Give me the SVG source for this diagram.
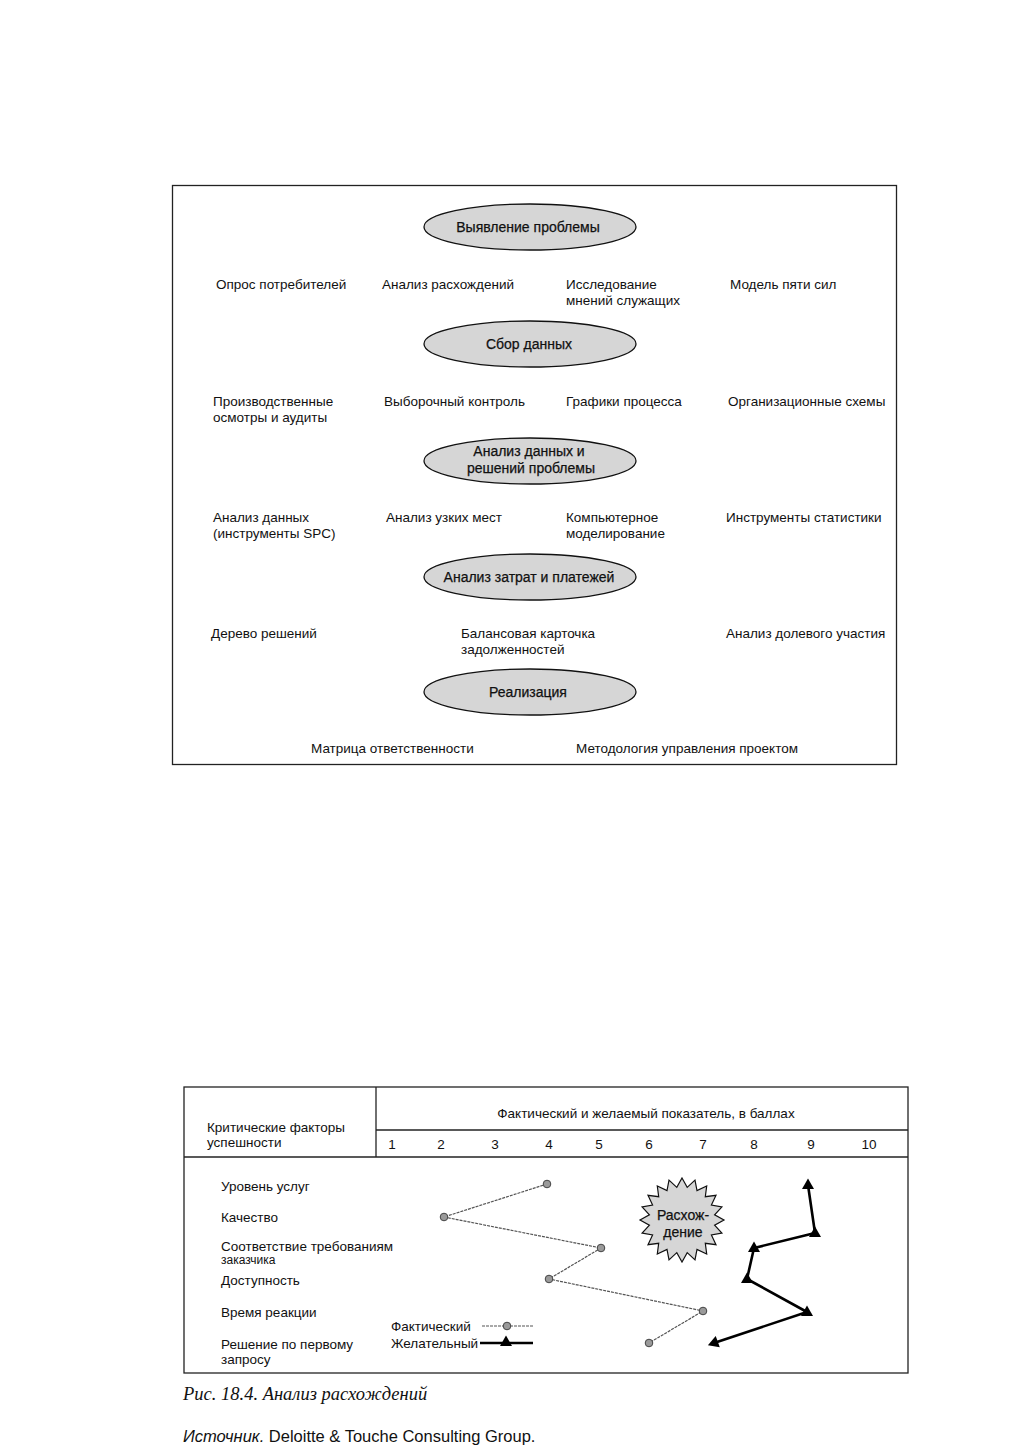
<svg xmlns="http://www.w3.org/2000/svg" xmlns:xlink="http://www.w3.org/1999/xlink" width="1013" height="1456" viewBox="0 0 1013 1456">
<style>
text{font-family:"Liberation Sans",Arial,sans-serif;font-size:13.5px;fill:#111;}
.c{text-anchor:middle;}
.et{font-size:14px;stroke:#111;stroke-width:0.25;}
.sm{font-size:12px;}
.box{fill:none;stroke:#222;stroke-width:1.3;}
.ell{fill:#d6d6d6;stroke:#111;stroke-width:1.3;}
.act{fill:none;stroke:#555;stroke-width:1.2;stroke-dasharray:3 1;}
.des{fill:none;stroke:#000;stroke-width:2.6;stroke-linejoin:round;}
.dot{fill:#9a9a9a;stroke:#444;stroke-width:1;}
.cap{font-family:"Liberation Serif","Times New Roman",serif;font-style:italic;font-size:18.5px;}
.src{font-size:16.5px;}
</style>
<defs>
<path id="tri" d="M0,-6.5 L6,4 L-6,4 Z" fill="#000"/>
</defs>
<rect width="1013" height="1456" fill="#fff"/>

<!-- ===== Top diagram ===== -->
<rect class="box" x="172.5" y="185.5" width="724" height="579"/>

<g id="n-vyyavlenie">
<ellipse class="ell" cx="530" cy="227" rx="106" ry="23"/>
<text class="c et" x="528" y="232">Выявление проблемы</text>
</g>
<g id="n-row1">
<text x="216" y="289">Опрос потребителей</text>
<text x="382" y="289">Анализ расхождений</text>
<text x="566" y="289">Исследование</text>
<text x="566" y="305">мнений служащих</text>
<text x="730" y="289">Модель пяти сил</text>
</g>

<g id="n-sbor">
<ellipse class="ell" cx="530" cy="344" rx="106" ry="23"/>
<text class="c et" x="529" y="349">Сбор данных</text>
</g>
<g id="n-row2">
<text x="213" y="406">Производственные</text>
<text x="213" y="422">осмотры и аудиты</text>
<text x="384" y="406">Выборочный контроль</text>
<text x="566" y="406">Графики процесса</text>
<text x="728" y="406">Организационные схемы</text>
</g>

<g id="n-analiz">
<ellipse class="ell" cx="530" cy="461" rx="106" ry="23"/>
<text class="c et" x="529" y="456">Анализ данных и</text>
<text class="c et" x="531" y="473">решений проблемы</text>
</g>
<g id="n-row3">
<text x="213" y="522">Анализ данных</text>
<text x="213" y="538">(инструменты SPC)</text>
<text x="386" y="522">Анализ узких мест</text>
<text x="566" y="522">Компьютерное</text>
<text x="566" y="538">моделирование</text>
<text x="726" y="522">Инструменты статистики</text>
</g>

<g id="n-zatraty">
<ellipse class="ell" cx="530" cy="577" rx="106" ry="23"/>
<text class="c et" x="529" y="582">Анализ затрат и платежей</text>
</g>
<g id="n-row4">
<text x="211" y="638">Дерево решений</text>
<text x="461" y="638">Балансовая карточка</text>
<text x="461" y="654">задолженностей</text>
<text x="726" y="638">Анализ долевого участия</text>
</g>

<g id="n-realizaciya">
<ellipse class="ell" cx="530" cy="692" rx="106" ry="23"/>
<text class="c et" x="528" y="697">Реализация</text>
</g>
<g id="n-row5">
<text x="311" y="753">Матрица ответственности</text>
<text x="576" y="753">Методология управления проектом</text>
</g>

<!-- ===== Chart ===== -->
<g id="chart-frame">
<rect class="box" x="184" y="1087" width="724" height="286"/>
<line class="box" x1="376" y1="1087" x2="376" y2="1157"/>
<line class="box" x1="376" y1="1130" x2="908" y2="1130"/>
<line class="box" x1="184" y1="1157" x2="908" y2="1157"/>
<text x="207" y="1132">Критические факторы</text>
<text x="207" y="1147">успешности</text>
<text class="c" x="646" y="1118">Фактический и желаемый показатель, в баллах</text>
<text class="c" x="392" y="1149">1</text>
<text class="c" x="441" y="1149">2</text>
<text class="c" x="495" y="1149">3</text>
<text class="c" x="549" y="1149">4</text>
<text class="c" x="599" y="1149">5</text>
<text class="c" x="649" y="1149">6</text>
<text class="c" x="703" y="1149">7</text>
<text class="c" x="754" y="1149">8</text>
<text class="c" x="811" y="1149">9</text>
<text class="c" x="869" y="1149">10</text>
</g>

<g id="row-labels">
<text x="221" y="1191">Уровень услуг</text>
<text x="221" y="1222">Качество</text>
<text x="221" y="1251">Соответствие требованиям</text>
<text class="sm" x="221" y="1264">заказчика</text>
<text x="221" y="1285">Доступность</text>
<text x="221" y="1317">Время реакции</text>
<text x="221" y="1349">Решение по первому</text>
<text x="221" y="1364">запросу</text>
</g>

<g id="n-raskhozhdenie">
<polygon points="682,1178 687.2,1187.4 695,1180.1 697,1190.6 706.7,1186 705.3,1196.7 716,1195.3 711.4,1205 721.9,1207 714.6,1214.8 724,1220 714.6,1225.2 721.9,1233 711.4,1235 716,1244.7 705.3,1243.3 706.7,1254 697,1249.4 695,1259.9 687.2,1252.6 682,1262 676.8,1252.6 669,1259.9 667,1249.4 657.3,1254 658.7,1243.3 648,1244.7 652.6,1235 642.1,1233 649.4,1225.2 640,1220 649.4,1214.8 642.1,1207 652.6,1205 648,1195.3 658.7,1196.7 657.3,1186 667,1190.6 669,1180.1 676.8,1187.4" fill="#d6d6d6" stroke="#111" stroke-width="1.2"/>
<text class="c et" x="683" y="1220">Расхож-</text>
<text class="c et" x="683" y="1237">дение</text>
</g>

<g id="connectors">
<polyline class="act" points="547,1184 444,1217 601,1248 549,1279 703,1311 649,1343"/>
<polyline class="des" points="808,1185 815,1233 754,1248 747,1279 807,1312 714,1343"/>
<line class="act" x1="482" y1="1326" x2="533" y2="1326"/>
<line class="des" x1="480" y1="1343" x2="533" y2="1343"/>
</g>

<g id="series-actual">
<circle class="dot" cx="547" cy="1184" r="3.8"/>
<circle class="dot" cx="444" cy="1217" r="3.8"/>
<circle class="dot" cx="601" cy="1248" r="3.8"/>
<circle class="dot" cx="549" cy="1279" r="3.8"/>
<circle class="dot" cx="703" cy="1311" r="3.8"/>
<circle class="dot" cx="649" cy="1343" r="3.8"/>
<circle class="dot" cx="507" cy="1326" r="3.8"/>
</g>

<g id="series-desired">
<use xlink:href="#tri" x="808" y="1185"/>
<use xlink:href="#tri" x="815" y="1233"/>
<use xlink:href="#tri" x="754" y="1248"/>
<use xlink:href="#tri" x="747" y="1279"/>
<use xlink:href="#tri" x="807" y="1312"/>
<use xlink:href="#tri" transform="translate(714,1343) rotate(-110)"/>
<use xlink:href="#tri" x="506" y="1342"/>
</g>

<g id="legend">
<text x="391" y="1331">Фактический</text>
<text x="391" y="1348">Желательный</text>
</g>

<g id="caption">
<text class="cap" x="183" y="1400">Рис. 18.4. Анализ расхождений</text>
<text class="src" x="183" y="1442"><tspan font-style="italic">Источник.</tspan> Deloitte &amp; Touche Consulting Group.</text>
</g>
</svg>
